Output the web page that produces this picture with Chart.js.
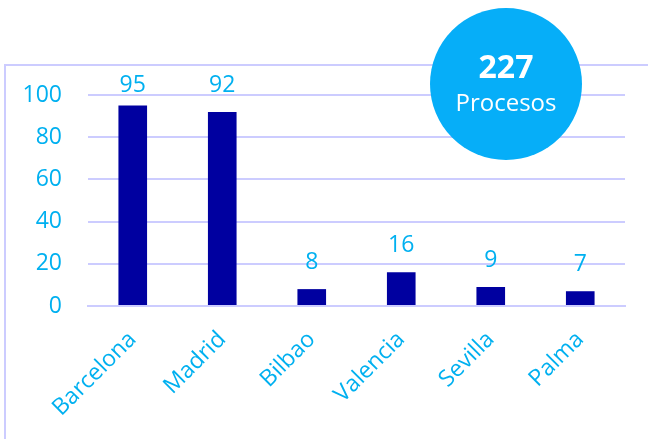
<!DOCTYPE html>
<html>
<head>
<meta charset="utf-8">
<script src="https://cdn.jsdelivr.net/npm/chart.js@4"></script>
<style>
  html, body { margin: 0; padding: 0; background: #fff; }
  #wrap { width: 648px; height: 439px; position: relative; }
</style>
</head>
<body>
<div id="wrap"><canvas id="procChart"></canvas></div>
<script>
const cities = ['Barcelona', 'Madrid', 'Bilbao', 'Valencia', 'Sevilla', 'Palma'];
const procesos = [95, 92, 8, 16, 9, 7];
const yTicks = [0, 20, 40, 60, 80, 100];
const totalLabel = '227';
const totalCaption = 'Procesos';

const textBlue = '#00B0F0';
const barBlue = '#0000A0';
const lineLilac = '#CCCCFF';

// frame + value labels + the round badge
const extras = {
    id: 'extras',
    beforeDraw(chart) {
        const c = chart.ctx;
        c.save();
        c.strokeStyle = lineLilac;
        c.lineWidth = 2;
        c.beginPath();
        c.moveTo(5, chart.height + 5);
        c.lineTo(5, 65);
        c.lineTo(chart.width + 5, 65);
        c.stroke();
        c.restore();
    },
    afterDatasetsDraw(chart) {
        const c = chart.ctx;
        const meta = chart.getDatasetMeta(0);
        const topLimit = chart.chartArea.top - 10;
        c.save();
        c.fillStyle = textBlue;
        c.font = '23px "Open Sans"';
        c.textAlign = 'center';
        c.textBaseline = 'middle';
        meta.data.forEach((bar, i) => {
            // labels sit above the bar, but stay inside the frame for tall bars
            c.fillText(procesos[i], bar.x, Math.max(bar.y - 27, topLimit));
        });
        c.restore();
    },
    afterDraw(chart) {
        const c = chart.ctx;
        c.save();
        c.fillStyle = '#06AEF8';
        c.beginPath();
        c.arc(506, 84, 76, 0, Math.PI * 2);
        c.fill();
        c.fillStyle = '#fff';
        c.textAlign = 'center';
        c.textBaseline = 'middle';
        c.font = 'bold 32px "Open Sans"';
        c.fillText(totalLabel, 506, 69);
        c.font = '24px "Open Sans"';
        c.fillText(totalCaption, 506, 104);
        c.restore();
    }
};

const ctx = document.getElementById('procChart').getContext('2d');
const procChart = new Chart(ctx, {
    type: 'bar',
    data: {
        labels: cities,
        datasets: [{
            data: procesos,
            backgroundColor: barBlue,
            barPercentage: 0.32,
            categoryPercentage: 1
        }]
    },
    options: {
        responsive: true,
        maintainAspectRatio: false,
        animation: false,
        layout: { padding: { top: 95, right: 23, bottom: 0, left: 10 } },
        plugins: {
            legend: { display: false },
            tooltip: { enabled: false }
        },
        scales: {
            x: {
                afterFit(scale) { scale.height = 133; },
                grid: { display: false },
                border: { color: lineLilac, width: 2 },
                ticks: {
                    color: textBlue,
                    font: { family: 'Open Sans', size: 23 },
                    minRotation: 45,
                    maxRotation: 45,
                    padding: 12
                }
            },
            y: {
                min: 0,
                max: 100,
                afterFit(scale) { scale.width = 78; },
                afterBuildTicks(scale) { scale.ticks = yTicks.map(v => ({ value: v })); },
                grid: { color: lineLilac, lineWidth: 2, drawTicks: false },
                border: { display: false },
                ticks: {
                    color: textBlue,
                    font: { family: 'Open Sans', size: 23 },
                    padding: 26
                }
            }
        }
    },
    plugins: [extras]
});
</script>
</body>
</html>
